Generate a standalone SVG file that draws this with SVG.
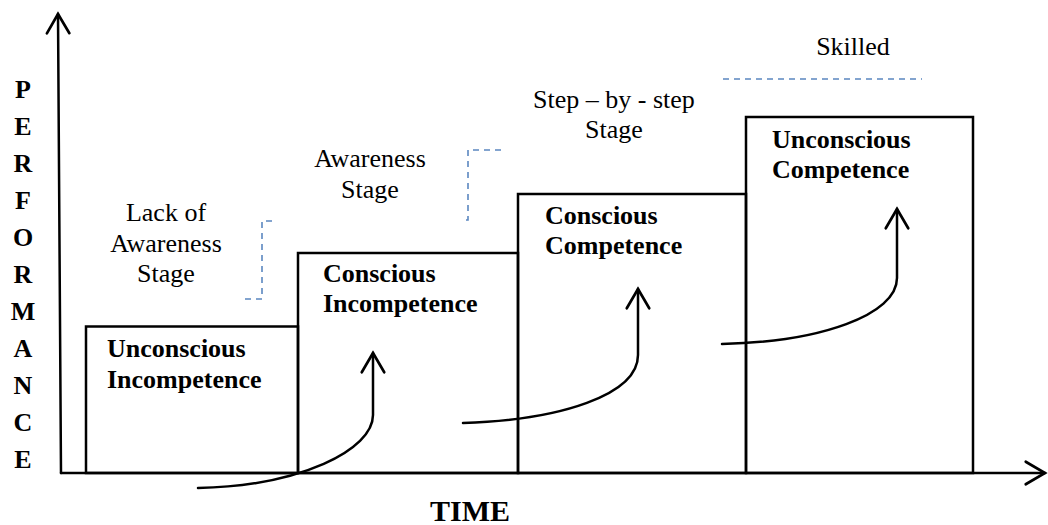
<svg xmlns="http://www.w3.org/2000/svg" width="1048" height="525" viewBox="0 0 1048 525">
<defs>
<style>
.ln{fill:none;stroke:#000;stroke-width:2.5;stroke-linecap:round}
.box{fill:none;stroke:#000;stroke-width:2.5}
.dash{fill:none;stroke:#5b87c0;stroke-width:1.6;stroke-dasharray:6 5}
</style>
<marker id="arr" markerUnits="userSpaceOnUse" markerWidth="30" markerHeight="30" viewBox="-22 -14 26 28" refX="0" refY="0" orient="auto" overflow="visible">
<path d="M-18,-10.5 L0,0 L-18,10.5" fill="none" stroke="#000" stroke-width="2.5" stroke-linecap="round" stroke-linejoin="miter"/>
</marker>
</defs>
<rect width="1048" height="525" fill="#fff"/>

<g id="axes">
<path class="ln" d="M61,473 L58,14" marker-end="url(#arr)"/>
<path class="ln" d="M61,473 H1045" marker-end="url(#arr)"/>
<g font-family="Liberation Serif, serif" font-size="26" font-weight="bold" fill="#000" text-anchor="middle">
<text x="23" y="98">P</text>
<text x="23" y="135">E</text>
<text x="23" y="172">R</text>
<text x="23" y="209">F</text>
<text x="23" y="246">O</text>
<text x="23" y="283">R</text>
<text x="23" y="320">M</text>
<text x="23" y="357">A</text>
<text x="23" y="394">N</text>
<text x="23" y="431">C</text>
<text x="23" y="468">E</text>
<text x="470" y="521" font-size="30">TIME</text>
</g>
</g>

<g font-family="Liberation Serif, serif" font-size="26" font-weight="bold" fill="#000">
<g id="node-unconscious-incompetence">
<rect class="box" x="86" y="326.5" width="212" height="146.5"/>
<text x="107" y="357">Unconscious</text>
<text x="107" y="388">Incompetence</text>
</g>
<g id="node-conscious-incompetence">
<rect class="box" x="298" y="253" width="220" height="220"/>
<text x="323" y="282">Conscious</text>
<text x="323" y="312">Incompetence</text>
</g>
<g id="node-conscious-competence">
<rect class="box" x="518" y="194" width="228" height="279"/>
<text x="545" y="224">Conscious</text>
<text x="545" y="254">Competence</text>
</g>
<g id="node-unconscious-competence">
<rect class="box" x="746" y="117" width="227" height="356"/>
<text x="772" y="148">Unconscious</text>
<text x="772" y="178">Competence</text>
</g>
</g>

<g id="stage-labels" font-family="Liberation Serif, serif" font-size="26" fill="#000" text-anchor="middle">
<text x="166" y="221">Lack of</text>
<text x="166" y="252">Awareness</text>
<text x="166" y="282">Stage</text>
<text x="370" y="167">Awareness</text>
<text x="370" y="198">Stage</text>
<text x="614" y="108">Step – by - step</text>
<text x="614" y="138">Stage</text>
<text x="853" y="55">Skilled</text>
</g>

<g id="stage-dividers">
<path class="dash" d="M245,299 H262 V221 H272"/>
<path class="dash" d="M466,220 H468 V150 H502"/>
<path class="dash" d="M723,79 H922"/>
</g>

<g id="connectors">
<path class="ln" d="M198,488 C300,486 373,450 373,415 V353" marker-end="url(#arr)"/>
<path class="ln" d="M463,423 C560,420 638,395 638,355 V289" marker-end="url(#arr)"/>
<path class="ln" d="M722,344 C820,342 897,315 897,278 V209" marker-end="url(#arr)"/>
</g>
</svg>
